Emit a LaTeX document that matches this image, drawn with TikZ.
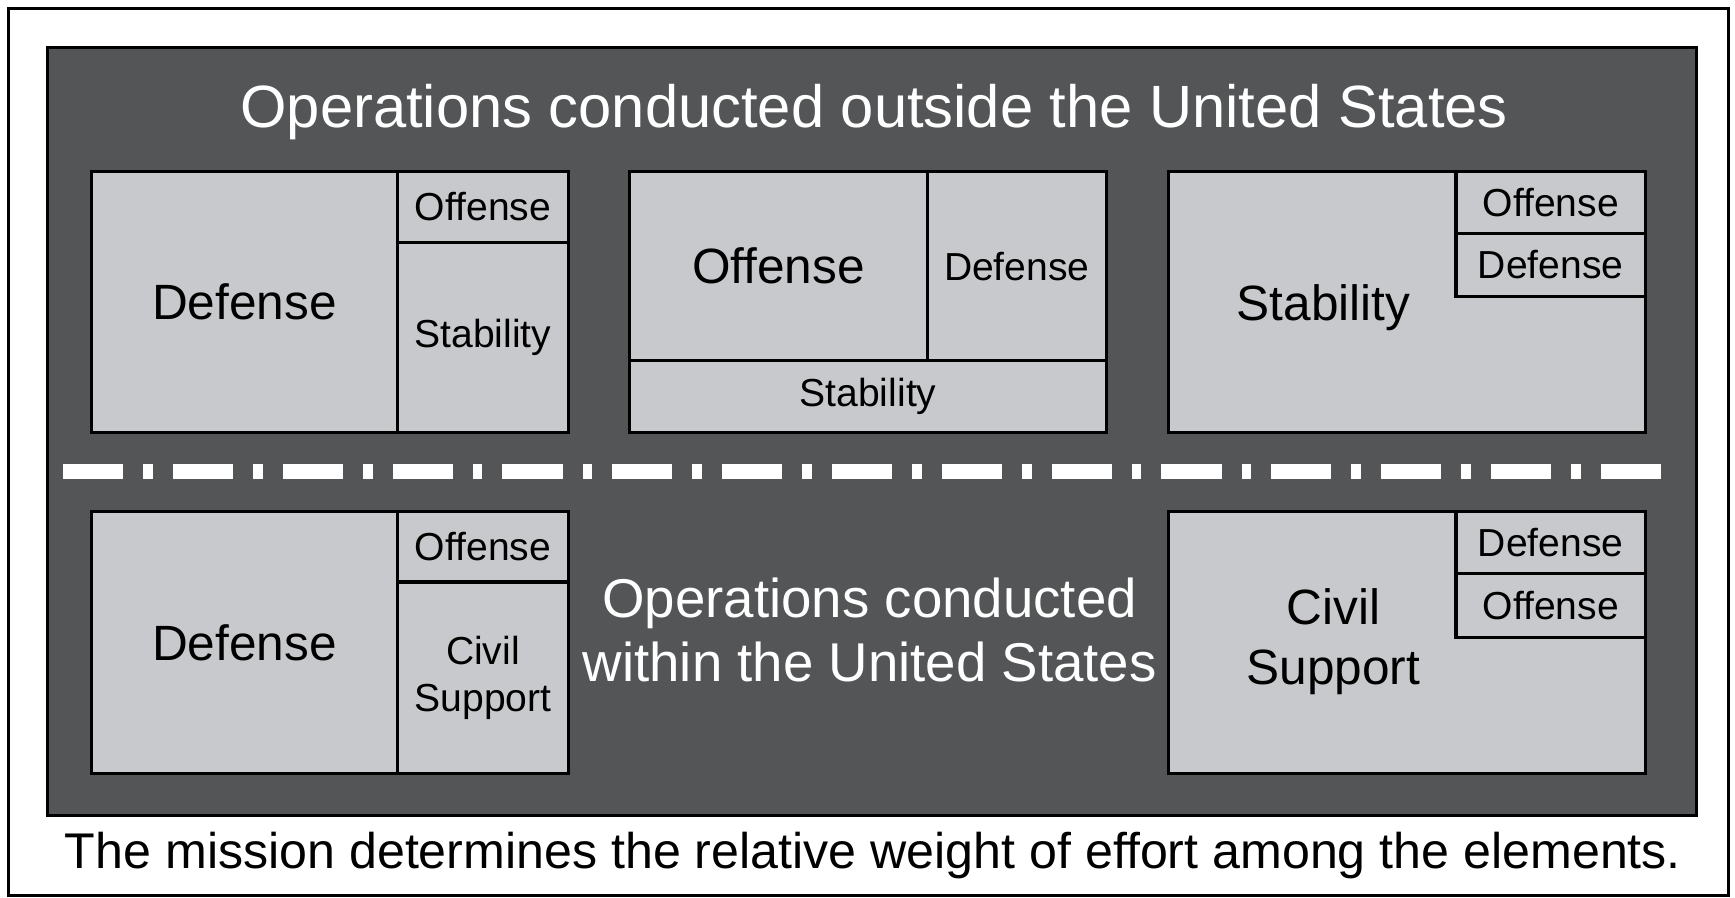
\documentclass[tikz,border=0pt]{standalone}
\usepackage{fontspec}
\setmainfont{Liberation Sans}
\usetikzlibrary{positioning}
\definecolor{panelgray}{RGB}{84,85,87}
\definecolor{cellgray}{RGB}{200,201,204}

\begin{document}
\begin{tikzpicture}[
            x = 0.02cm, y = -0.02cm, % pixel grid, y pointing down
            semithick % line style
        ]

        \tikzstyle{cell}=[
            draw = black,
            line width = 1.7pt,
            fill = cellgray,
            rectangle,
            inner sep = 0pt,
            outer sep = 0pt,
            align = center,
            anchor = north west
        ]
        \tikzstyle{bigtext}=[font=\fontsize{25.5}{31.2}\selectfont]
        \tikzstyle{smalltext}=[font=\fontsize{20.1}{24.4}\selectfont]
        \tikzstyle{heading}=[text=white, align=center]

        \useasboundingbox (0,0) rectangle (1568,811);

        % frame and panel
        \draw[line width=1.4pt] (8,8) rectangle (1562,809);
        \draw[fill=panelgray, line width=1.7pt] (43,43) rectangle (1533,737);

        \node[heading, font=\fontsize{30.7}{36}\selectfont] (outTitle) at (790,101) {Operations conducted outside the United States};

	% outside: defense first
        \node[cell, bigtext, minimum width=5.52cm, minimum height=4.72cm] (D1) at (83,155) {Defense};
        \node[cell, smalltext, minimum width=3.10cm, minimum height=1.28cm] (O1) at (D1.north east) {Offense};
        \node[cell, smalltext, minimum width=3.10cm, minimum height=3.44cm] (S1) at (O1.south west) {Stability};

	% outside: offense first
        \node[cell, bigtext, minimum width=5.38cm, minimum height=3.42cm] (O2) at (569,155) {Offense};
        \node[cell, smalltext, minimum width=3.24cm, minimum height=3.42cm] (D2) at (O2.north east) {Defense};
        \node[cell, smalltext, minimum width=8.62cm, minimum height=1.30cm] (S2) at (O2.south west) {Stability};

	% outside: stability first
        \node[cell, minimum width=8.62cm, minimum height=4.72cm] (S3) at (1056,155) {};
        \node[cell, smalltext, minimum width=3.42cm, minimum height=1.12cm, anchor=north east] (O3) at (S3.north east) {Offense};
        \node[cell, smalltext, minimum width=3.42cm, minimum height=1.14cm] (D3) at (O3.south west) {Defense};
        \node[bigtext] (S3text) at (1196,278) {Stability};

        % boundary
        \coordinate (divL) at (57,426);
        \coordinate (divR) at (1508,426);
        \draw[white, line width=7.8pt, dash pattern=on 30.9pt off 10.3pt on 5pt off 10.3pt] (divL) -- (divR);

	% within: defense first
        \node[cell, bigtext, minimum width=5.52cm, minimum height=4.74cm] (D4) at (83,462) {Defense};
        \node[cell, smalltext, minimum width=3.10cm, minimum height=1.28cm] (O4) at (D4.north east) {Offense};
        \node[cell, smalltext, minimum width=3.10cm, minimum height=3.46cm] (C4) at (O4.south west) {Civil\\Support};

        \node[heading, font=\fontsize{28.1}{32.9}\selectfont] (inTitle) at (786,569) {Operations conducted\\within the United States};

	% within: civil support first
        \node[cell, minimum width=8.62cm, minimum height=4.74cm] (C5) at (1056,462) {};
        \node[cell, smalltext, minimum width=3.42cm, minimum height=1.12cm, anchor=north east] (D5) at (C5.north east) {Defense};
        \node[cell, smalltext, minimum width=3.42cm, minimum height=1.16cm] (O5) at (D5.south west) {Offense};
        \node[bigtext, align=center] (C5text) at (1205,580) {Civil\\Support};

        \node[font=\fontsize{25.8}{30}\selectfont] (caption) at (789,773) {The mission determines the relative weight of effort among the elements.};

  \end{tikzpicture}
\end{document}
